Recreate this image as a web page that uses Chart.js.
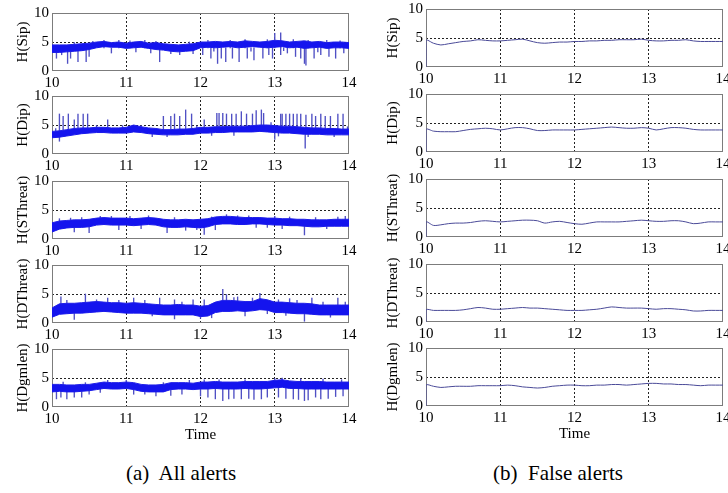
<!DOCTYPE html>
<html>
<head>
<meta charset="utf-8">
<script src="https://cdn.jsdelivr.net/npm/chart.js@4"></script>
<style>
    body { margin: 0; background: #fff; }
    #fig { position: relative; width: 728px; height: 493px; overflow: hidden; background: #fff; }
    .caption { position: absolute; top: 461px; font-family: "Liberation Serif", serif; font-size: 21px; color: #000; white-space: pre; transform: translateX(-50%); }
</style>
</head>
<body>
<div id="fig">
    <div class="caption" style="left:181px;">(a)  All alerts</div>
    <div class="caption" style="left:558px;">(b)  False alerts</div>
</div>
<script>
// sample times (hours) for the envelopes and the smoothed series
const times = [10.0,10.1,10.2,10.3,10.4,10.5,10.6,10.7,10.8,10.9,
    11.0,11.1,11.2,11.3,11.4,11.5,11.6,11.7,11.8,11.9,
    12.0,12.1,12.2,12.3,12.4,12.5,12.6,12.7,12.8,12.9,
    13.0,13.1,13.2,13.3,13.4,13.5,13.6,13.7,13.8,13.9,
    14.0];
const xTicks = [10, 11, 12, 13, 14];
const yTicks = [0, 5, 10];
const yNames = ['H(Sip)', 'H(Dip)', 'H(SThreat)', 'H(DThreat)', 'H(Dgmlen)'];

// (a) all alerts: noisy band (upper / lower edge) + spikes [time, tip]
const sipHi = [4.5,4.5,4.5,4.6,4.7,4.8,5.0,5.1,4.9,5.0, 4.8,5.0,5.1,4.8,4.9,4.7,4.6,4.5,4.6,4.7, 5.0,5.0,5.1,5.0,5.1,5.0,5.2,5.1,5.0,5.1, 5.3,5.2,5.0,5.1,5.2,5.0,5.1,4.9,5.0,5.0, 4.9];
const sipLo = [3.2,3.2,3.3,3.4,3.5,3.7,4.0,4.2,4.1,4.1, 3.9,4.0,4.1,3.9,3.7,3.6,3.4,3.3,3.4,3.5, 4.0,4.1,4.0,4.1,4.2,4.0,4.1,4.2,4.1,4.0, 4.1,4.2,4.0,4.1,3.9,4.0,4.1,3.9,4.0,4.0, 3.9];
const sipBase = 4.0;
const sipSpikes = [[10.06,2.2],[10.13,2.8],[10.21,1.3],[10.25,2.2],[10.35,1.6],[10.46,1.6],[10.5,2.5],[10.8,3.1],
    [11.13,3.3],[11.33,3.1],[11.45,1.6],[11.72,2.8],[12.03,2.8],[12.14,2.2],[12.23,1.3],[12.28,2.2],[12.34,1.6],
    [12.43,2.2],[12.52,1.6],[12.63,2.2],[12.72,1.9],[12.84,2.2],[12.92,2.8],[12.97,2.2],[13.08,2.8],[13.17,3.1],
    [13.28,2.5],[13.35,2.2],[13.4,1.3],[13.42,1.0],[13.53,2.2],[13.62,2.8],[13.73,2.5],[13.82,2.2],[13.93,3.1],
    [13.0,6.5],[13.08,6.6],[12.9,5.4],[11.25,5.3],[10.7,5.3],
    [10.3,4.9],[10.55,5.1],[10.9,5.3],[11.05,5.2],[11.4,5.1],[11.6,3.0],[11.85,5.0],[12.1,5.3],[12.4,5.3],
    [12.6,5.4],[13.25,5.4],[13.45,5.3],[13.7,5.3],[13.88,5.2],[11.9,3.0],[12.18,3.4],[12.68,3.4],[13.12,3.5],[13.58,3.3]];

const dipHi = [3.9,4.0,4.2,4.4,4.5,4.5,4.6,4.6,4.5,4.5, 4.6,5.0,4.7,4.5,4.4,4.2,4.2,4.3,4.3,4.4, 4.6,4.6,4.7,4.7,4.8,4.8,4.8,4.9,5.0,5.0, 4.9,4.8,4.8,4.7,4.6,4.5,4.5,4.4,4.4,4.3, 4.3];
const dipLo = [2.8,2.9,3.1,3.3,3.5,3.6,3.7,3.7,3.6,3.6, 3.6,3.8,3.7,3.5,3.4,3.3,3.3,3.3,3.4,3.4, 3.6,3.6,3.7,3.7,3.8,3.8,3.8,3.8,3.9,3.8, 3.7,3.6,3.6,3.5,3.4,3.4,3.4,3.3,3.3,3.3, 3.3];
const dipBase = 3.9;
const dipSpikes = [[10.1,6.9],[10.15,6.5],[10.22,6.9],[10.3,5.9],[10.35,6.9],[10.42,6.9],[10.48,6.9],[10.75,5.9],
    [11.5,6.5],[11.6,6.5],[11.65,6.9],[11.72,6.5],[11.8,7.6],[11.88,6.9],[12.05,5.9],[12.22,7.0],[12.25,7.0],
    [12.3,7.0],[12.35,6.9],[12.42,6.9],[12.48,6.9],[12.55,7.3],[12.62,6.9],[12.7,6.9],[12.75,7.5],[12.82,7.6],
    [12.85,7.0],[13.08,6.9],[13.1,6.9],[13.15,6.9],[13.2,6.9],[13.25,6.9],[13.3,6.9],[13.35,6.9],[13.42,6.7],
    [13.5,6.9],[13.55,6.5],[13.62,6.9],[13.68,6.5],[13.75,6.5],[13.85,6.9],[13.92,6.9],
    [10.1,2.2],[13.0,2.5],[13.41,1.0],[11.55,3.0],
    [10.05,4.4],[10.6,4.9],[10.95,4.9],[11.2,4.9],[11.35,3.0],[11.95,4.8],[12.15,3.2],[12.45,3.2],[12.95,5.4],
    [13.05,3.1],[13.45,3.0],[13.8,3.0],[13.98,4.7]];

const sthHi = [2.8,3.1,3.2,3.3,3.3,3.4,3.6,3.7,3.6,3.6, 3.6,3.5,3.6,3.7,3.6,3.4,3.3,3.3,3.4,3.3, 3.4,3.5,3.8,3.9,3.9,3.8,3.7,3.7,3.7,3.6, 3.6,3.5,3.5,3.4,3.4,3.3,3.3,3.3,3.4,3.4, 3.4];
const sthLo = [1.2,1.7,1.9,2.0,2.0,2.1,2.4,2.5,2.4,2.4, 2.4,2.3,2.4,2.5,2.4,2.1,2.0,2.0,2.1,2.0, 1.9,2.1,2.5,2.6,2.6,2.5,2.5,2.6,2.6,2.5, 2.4,2.4,2.3,2.3,2.2,2.1,2.1,2.2,2.2,2.2, 2.2];
const sthBase = 2.7;
const sthSpikes = [[10.3,1.2],[10.5,1.1],[10.9,1.6],[11.55,1.1],[11.8,1.5],[12.05,0.8],[12.2,1.6],[13.4,0.7],[13.1,1.8],
    [10.65,3.9],[11.3,4.0],[12.35,4.2],[12.5,4.0],[13.0,3.9],[13.95,3.9],[10.25,3.6],
    [10.1,3.5],[10.4,3.7],[10.8,3.9],[11.05,3.9],[11.2,1.8],[11.65,3.7],[11.95,1.6],[12.15,3.8],[12.65,4.0],
    [12.75,2.0],[13.2,3.8],[13.55,3.7],[13.7,1.8],[13.85,3.8],[12.9,2.0]];

const dthHi = [2.6,3.3,3.4,3.4,3.5,3.6,3.7,3.6,3.5,3.5, 3.4,3.5,3.4,3.3,3.2,3.1,3.1,3.2,3.1,3.1, 2.9,3.0,3.6,3.9,3.9,3.8,3.7,3.7,4.2,4.0, 3.6,3.6,3.5,3.4,3.4,3.3,3.1,3.1,3.1,3.1, 3.1];
const dthLo = [1.0,1.5,1.6,1.7,1.7,1.8,1.9,2.0,1.9,1.8, 1.7,1.7,1.7,1.6,1.5,1.4,1.4,1.4,1.4,1.4, 1.1,1.2,1.8,2.0,2.0,2.1,2.0,2.1,2.3,2.2, 1.8,1.8,1.7,1.6,1.6,1.5,1.4,1.4,1.4,1.4, 1.4];
const dthBase = 2.5;
const dthSpikes = [[10.12,4.5],[10.45,5.0],[10.75,4.3],[11.1,4.3],[11.45,4.3],[11.65,4.0],[12.05,4.0],[12.3,5.8],
    [12.35,4.9],[12.5,4.5],[12.8,5.1],[13.05,4.0],[13.5,4.3],[13.85,4.3],[13.2,4.2],[11.9,4.0],
    [10.3,0.6],[11.65,0.7],[13.4,0.3],[12.0,0.8],[12.6,1.2],
    [10.2,3.9],[10.6,4.0],[10.9,3.9],[11.25,3.9],[11.35,1.2],[11.75,3.6],[12.15,0.9],[12.45,4.4],[12.7,4.3],
    [12.9,1.6],[13.15,1.3],[13.3,3.9],[13.65,3.6],[13.75,1.0],[13.95,3.6]];

const dgmHi = [3.9,3.9,3.8,3.8,3.9,3.9,4.1,4.3,4.2,4.2, 4.3,4.2,3.9,3.8,3.8,3.9,4.2,4.2,4.2,4.1, 4.3,4.3,4.4,4.3,4.3,4.3,4.4,4.4,4.4,4.4, 4.6,4.7,4.5,4.4,4.4,4.4,4.4,4.3,4.3,4.3, 4.3];
const dgmLo = [2.6,2.7,2.6,2.6,2.7,2.8,3.0,3.2,3.1,3.1, 3.2,3.0,2.7,2.6,2.6,2.6,3.0,3.1,3.1,3.0, 3.1,3.1,3.2,3.1,3.1,3.1,3.2,3.1,3.1,3.2, 3.3,3.4,3.2,3.2,3.1,3.1,3.1,3.1,3.1,3.1, 3.1];
const dgmBase = 3.5;
const dgmSpikes = [[10.06,1.4],[10.12,1.7],[10.2,1.4],[10.3,1.7],[10.4,1.7],[10.5,2.2],[10.65,2.5],[11.1,2.2],
    [11.4,1.9],[11.6,2.0],[11.75,2.2],[12.0,1.9],[12.1,1.7],[12.2,1.4],[12.3,1.1],[12.38,1.4],[12.45,1.5],
    [12.55,1.4],[12.65,1.5],[12.72,1.3],[12.82,1.4],[12.9,1.7],[13.05,1.7],[13.15,1.5],[13.25,1.4],[13.32,1.3],
    [13.4,1.1],[13.45,1.2],[13.55,1.7],[13.62,1.4],[13.72,1.5],[13.82,1.8],[13.92,1.9],
    [10.15,4.3],[10.45,4.2],[10.75,4.6],[11.0,4.6],[11.25,2.2],[11.5,4.2],[11.85,4.6],[12.05,4.7],[12.25,4.7],
    [12.6,4.7],[13.0,4.9],[13.1,5.0],[13.35,4.8],[13.65,4.8],[13.9,4.7]];

// (b) false alerts: smoothed series, starting from 0 at t = 10
const falseTimes = [10.0].concat(times);
const falseSip = [0, 4.6,4.1,3.8,4.0,4.2,4.4,4.5,4.7,4.6,4.5, 4.5,4.6,4.7,4.8,4.5,4.2,4.1,4.2,4.3,4.3, 4.4,4.4,4.5,4.5,4.6,4.6,4.7,4.7,4.7,4.8, 4.6,4.5,4.5,4.6,4.6,4.7,4.5,4.4,4.4,4.4, 4.4];
const falseDip = [0, 3.9,3.6,3.5,3.5,3.5,3.7,3.9,4.0,4.1,4.0, 3.8,4.0,4.2,4.2,4.0,3.7,3.7,3.8,3.8,3.8, 3.8,3.9,4.0,4.1,4.2,4.3,4.2,4.1,4.1,4.2, 4.1,3.8,4.0,4.2,4.2,4.1,3.9,3.8,3.8,3.8, 3.8];
const falseSth = [0, 2.6,2.0,2.1,2.3,2.4,2.4,2.5,2.7,2.8,2.7, 2.6,2.7,2.8,2.9,2.9,2.8,2.4,2.6,2.7,2.5, 2.3,2.2,2.4,2.6,2.6,2.6,2.6,2.7,2.8,2.9, 2.8,2.7,2.7,2.8,2.8,2.6,2.3,2.4,2.6,2.6, 2.6];
const falseDth = [0, 2.1,2.0,2.0,2.0,2.0,2.1,2.3,2.5,2.4,2.2, 2.2,2.3,2.4,2.5,2.4,2.4,2.3,2.2,2.1,2.0, 2.0,2.0,2.1,2.2,2.4,2.6,2.5,2.4,2.4,2.4, 2.3,2.2,2.3,2.3,2.2,2.1,1.9,1.9,2.0,2.0, 2.0];
const falseDgm = [0, 3.6,3.4,3.2,3.3,3.4,3.4,3.4,3.5,3.5,3.5, 3.5,3.6,3.5,3.3,3.2,3.1,3.2,3.4,3.5,3.6, 3.6,3.5,3.5,3.6,3.6,3.7,3.7,3.6,3.7,3.8, 3.9,3.9,3.8,3.8,3.7,3.7,3.6,3.5,3.6,3.6, 3.6];

const allAlerts = [
    [sipHi, sipLo, sipBase, sipSpikes],
    [dipHi, dipLo, dipBase, dipSpikes],
    [sthHi, sthLo, sthBase, sthSpikes],
    [dthHi, dthLo, dthBase, dthSpikes],
    [dgmHi, dgmLo, dgmBase, dgmSpikes],
];
const falseAlerts = [falseSip, falseDip, falseSth, falseDth, falseDgm];

// layout of the two columns of panels
const SERIF = '"Liberation Serif", "Times New Roman", serif';
const LEFT = { x: 0, w: 360, padL: 14, padR: 11, axisW: 38, tops: [13, 96, 181, 265, 349] };
const RIGHT = { x: 364, w: 364, padL: 20, padR: 5, axisW: 42, tops: [9, 94, 179, 264, 348] };
const PLOT_H = 58, PAD_T = 8, XAX_H = 22, XAX_H_LAST = 37;

const frame = {
    id: 'frame',
    beforeDatasetsDraw(chart) {
        const { ctx, chartArea: a } = chart;
        ctx.save();
        ctx.strokeStyle = '#7c7c7c';
        ctx.lineWidth = 1;
        ctx.strokeRect(Math.round(a.left) + 0.5, Math.round(a.top) + 0.5,
            Math.round(a.right - a.left) - 1, Math.round(a.bottom - a.top) - 1);
        ctx.restore();
    },
};

function makePanel(col, row, datasets) {
    const last = row === 4;
    const axH = last ? XAX_H_LAST : XAX_H;
    const cv = document.createElement('canvas');
    cv.width = col.w;
    cv.height = PAD_T + PLOT_H + axH;
    cv.style.cssText = `position:absolute;left:${col.x}px;top:${col.tops[row] - PAD_T}px;`;
    document.getElementById('fig').appendChild(cv);

    new Chart(cv, {
        type: 'line',
        data: { datasets },
        options: {
            responsive: false, animation: false,
            layout: { padding: { left: col.padL, right: col.padR, top: PAD_T, bottom: 0 } },
            plugins: { legend: { display: false }, tooltip: { enabled: false } },
            scales: {
                x: {
                    type: 'linear', min: 10, max: 14, offset: false,
                    afterBuildTicks: s => { s.ticks = xTicks.map(v => ({ value: v })); },
                    afterFit: s => { s.height = axH; s.paddingLeft = 0; s.paddingRight = 0; },
                    grid: {
                        color: c => (c.tick && (c.tick.value === 10 || c.tick.value === 14)) ? 'rgba(0,0,0,0)' : '#222',
                        lineWidth: 1, drawTicks: false, offset: false,
                    },
                    border: { display: false, dash: [2, 2] },
                    ticks: { padding: 3, color: '#000', maxRotation: 0, autoSkip: false, font: { family: SERIF, size: 15 } },
                    title: { display: last, text: 'Time', color: '#000', padding: 0, font: { family: SERIF, size: 15 } },
                },
                y: {
                    min: 0, max: 10,
                    afterBuildTicks: s => { s.ticks = yTicks.map(v => ({ value: v })); },
                    afterFit: s => { s.width = col.axisW; s.paddingTop = 0; s.paddingBottom = 0; },
                    grid: {
                        color: c => (c.tick && c.tick.value === 5) ? '#222' : 'rgba(0,0,0,0)',
                        lineWidth: 1, drawTicks: false,
                    },
                    border: { display: false, dash: [2, 2] },
                    ticks: { padding: 3, color: '#000', font: { family: SERIF, size: 15 } },
                    title: { display: true, text: yNames[row], color: '#000', padding: 0, font: { family: SERIF, size: 15 } },
                },
            },
        },
        plugins: [frame],
    });
}

// (a) all alerts
allAlerts.forEach(([hi, lo, base, spikes], row) => {
    makePanel(LEFT, row, [{
        data: times.map((t, i) => ({ x: t, y: hi[i] })),
        borderColor: '#2020e8', borderWidth: 1, pointRadius: 0, tension: 0,
        fill: '+1', backgroundColor: '#1414ee', order: 0,
    }, {
        data: times.map((t, i) => ({ x: t, y: lo[i] })),
        borderColor: '#2020e8', borderWidth: 1, pointRadius: 0, tension: 0,
        fill: false, order: 0,
    }, {
        type: 'bar',
        data: spikes.map(([t, v]) => ({ x: t, y: [base, v] })),
        backgroundColor: '#5050c4', barThickness: 0.7, order: 1,
    }]);
});

// (b) false alerts
falseAlerts.forEach((vals, row) => {
    makePanel(RIGHT, row, [{
        data: falseTimes.map((t, i) => ({ x: t, y: vals[i] })),
        borderColor: '#4a4a98', borderWidth: 1, pointRadius: 0, tension: 0.3, fill: false,
    }]);
});
</script>
</body>
</html>
